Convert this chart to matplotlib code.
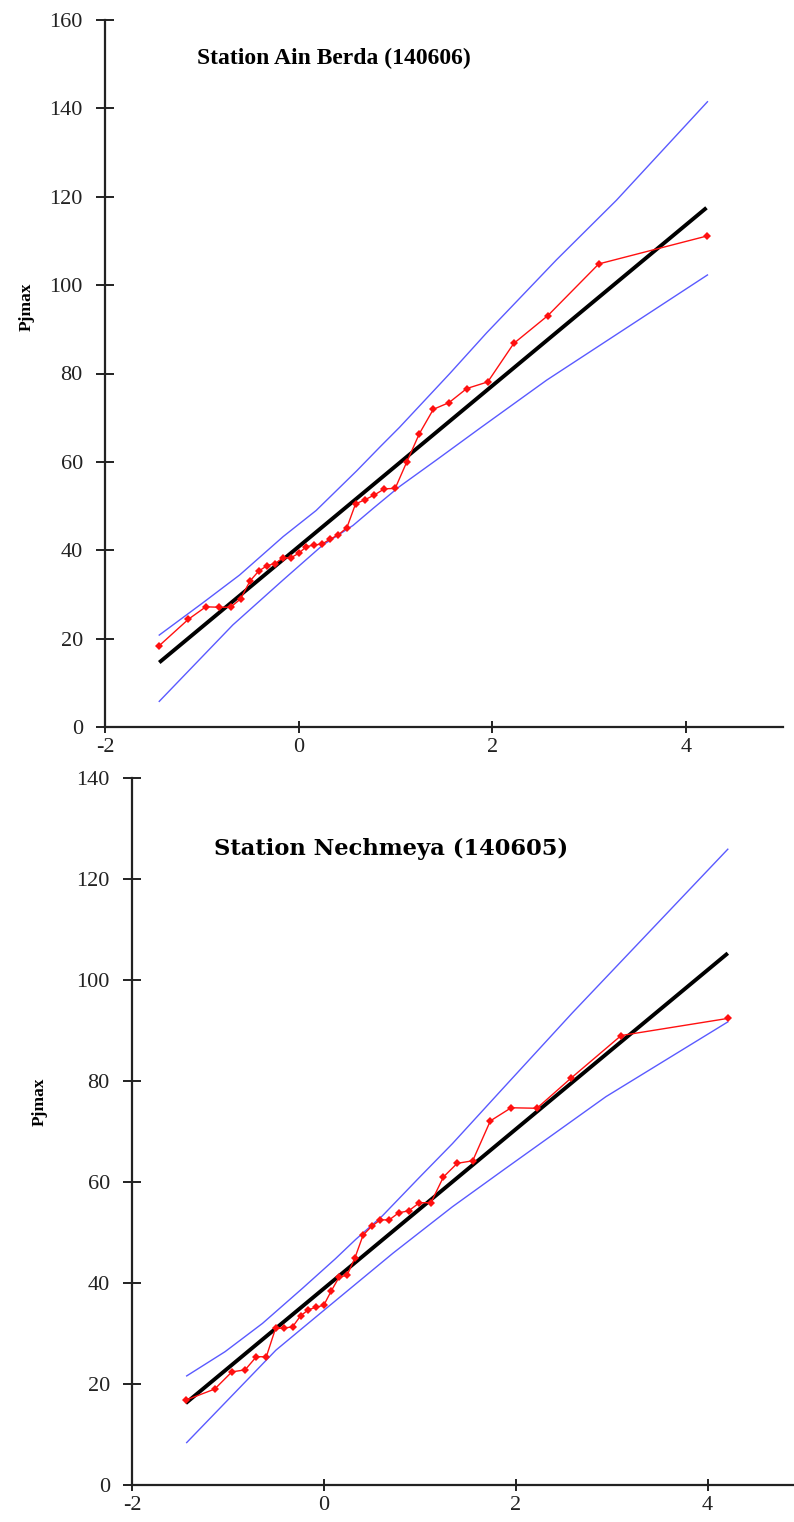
import matplotlib
matplotlib.use("Agg")
import matplotlib.pyplot as plt

plt.rcParams["axes.unicode_minus"] = False
plt.rcParams["font.family"] = ["Liberation Serif", "DejaVu Serif"]

# Gumbel reduced variate (x) for the 34 ranked observations
reduced_variate = [-1.440, -1.138, -0.959, -0.821, -0.704, -0.600, -0.504, -0.413,
                   -0.327, -0.243, -0.161, -0.081, -0.001, 0.079, 0.160, 0.241,
                   0.324, 0.409, 0.497, 0.587, 0.681, 0.780, 0.885, 0.996,
                   1.116, 1.246, 1.390, 1.551, 1.735, 1.952, 2.220, 2.572,
                   3.098, 4.212]

# ---- Station Ain Berda (140606)
ain_obs = [18.4, 24.4, 27.2, 27.1, 27.1, 29.0, 33.0, 35.3, 36.5, 37.0, 38.3, 38.3,
           39.3, 40.8, 41.2, 41.4, 42.5, 43.5, 45.1, 50.5, 51.4, 52.5, 53.9, 54.0,
           60.0, 66.4, 71.9, 73.4, 76.6, 78.1, 86.8, 93.1, 104.8, 111.1]
ain_fit_x = [-1.44, 4.21]
ain_fit_y = [14.6, 117.5]
ain_up_x = [-1.44, -0.99, -0.61, -0.16, 0.18, 0.60, 0.84, 1.04, 1.56, 1.94, 2.66, 3.28, 4.22]
ain_up_y = [20.8, 28.1, 34.4, 43.1, 49.0, 58.0, 63.4, 67.8, 80.0, 89.2, 105.7, 119.2, 141.5]
ain_lo_x = [-1.44, -0.68, -0.16, 0.25, 0.56, 0.77, 1.04, 1.42, 1.87, 2.56, 4.22]
ain_lo_y = [5.8, 23.1, 33.3, 41.2, 45.6, 49.5, 54.4, 60.4, 67.6, 78.5, 102.3]

# ---- Station Nechmeya (140605)
nec_obs = [16.8, 19.0, 22.4, 22.8, 25.4, 25.4, 31.0, 31.1, 31.3, 33.5, 34.7, 35.2,
           35.6, 38.5, 41.2, 41.5, 45.0, 49.5, 51.2, 52.5, 52.5, 53.9, 54.3, 55.9,
           55.9, 61.0, 63.7, 64.2, 72.1, 74.7, 74.6, 80.5, 89.0, 92.4]
nec_fit_x = [-1.44, 4.21]
nec_fit_y = [16.2, 105.3]
nec_up_x = [-1.43, -1.03, -0.64, -0.22, 0.12, 0.33, 0.61, 0.99, 1.34, 1.86, 2.59, 4.21]
nec_up_y = [21.6, 26.4, 32.0, 39.0, 44.8, 48.6, 53.3, 60.8, 67.6, 78.4, 93.5, 125.9]
nec_lo_x = [-1.43, -0.50, 0.02, 0.72, 1.34, 1.88, 2.94, 4.21]
nec_lo_y = [8.4, 26.7, 34.9, 45.9, 55.1, 62.5, 76.9, 91.7]

titles = ["Station Ain Berda (140606)", "Station Nechmeya (140605)"]
ylabel = "Pjmax"
xticks = [-2, 0, 2, 4]

SERIF = ["Liberation Serif", "DejaVu Serif"]
WIDE_SERIF = ["DejaVu Serif", "Liberation Serif"]

fig = plt.figure(figsize=(7.94, 15.22), dpi=100)
W, H = 794, 1522


def make_axes(left_px, right_px, top_px, bottom_px):
    return fig.add_axes([left_px / W, 1 - bottom_px / H,
                         (right_px - left_px) / W, (bottom_px - top_px) / H])


ax1 = make_axes(105, 783, 20, 727)
ax2 = make_axes(132, 794, 778, 1485)

panels = [
    (ax1, ain_obs, ain_fit_x, ain_fit_y, ain_up_x, ain_up_y, ain_lo_x, ain_lo_y,
     (0, 160), (-2, 5), titles[0], (0.338, 0.946), SERIF, 17),
    (ax2, nec_obs, nec_fit_x, nec_fit_y, nec_up_x, nec_up_y, nec_lo_x, nec_lo_y,
     (0, 140), (-2, 4.9), titles[1], (0.392, 0.900), WIDE_SERIF, 16.3),
]

for (ax, obs, fx, fy, ux, uy, lx, ly, ylim, xlim, title, tpos, tfam, tsize) in panels:
    ax.plot(ux, uy, color="#5a5aff", lw=1.0, zorder=2)
    ax.plot(lx, ly, color="#5a5aff", lw=1.0, zorder=2)
    ax.plot(fx, fy, color="black", lw=2.8, zorder=3, solid_capstyle="butt")
    ax.plot(reduced_variate, obs, color="#ff1010", lw=1.0, marker="D",
            markersize=4.3, markeredgewidth=0, zorder=4)
    ax.set_xlim(*xlim)
    ax.set_ylim(*ylim)
    ax.set_xticks(xticks)
    ax.set_yticks(range(ylim[0], ylim[1] + 1, 20))
    for s in ("top", "right"):
        ax.spines[s].set_visible(False)
    for s in ("left", "bottom"):
        ax.spines[s].set_linewidth(1.6)
        ax.spines[s].set_color("#222222")
    ax.tick_params(axis="y", direction="inout", length=13, width=1.4,
                   pad=9.5, labelsize=16, colors="#222222")
    ax.tick_params(axis="x", direction="inout", length=8, width=1.4,
                   pad=4, labelsize=16, colors="#222222")
    ax.patch.set_alpha(0)
    ax.text(tpos[0], tpos[1], title, transform=ax.transAxes, ha="center",
            va="center", fontsize=tsize, fontweight="bold", family=tfam)

fig.text(27 / W, 1 - 307 / H, ylabel, rotation=90, ha="center", va="center",
         fontsize=12.5, fontweight="bold", family=SERIF)
fig.text(40 / W, 1 - 1102 / H, ylabel, rotation=90, ha="center", va="center",
         fontsize=12.5, fontweight="bold", family=SERIF)

fig.savefig("out.png", dpi=100)
